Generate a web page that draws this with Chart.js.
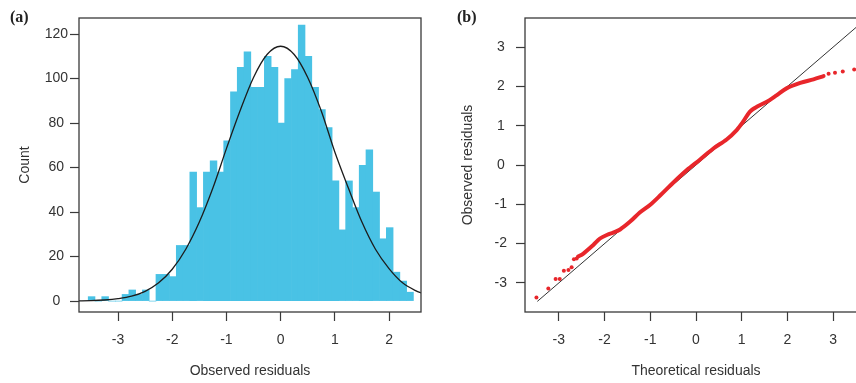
<!DOCTYPE html>
<html>
<head>
<meta charset="utf-8">
<script src="https://cdn.jsdelivr.net/npm/chart.js@4.4.0/dist/chart.umd.min.js"></script>
<style>
  html, body { margin: 0; padding: 0; background: #fff; overflow: hidden; }
  body { width: 856px; height: 383px; position: relative; }
  #histWrap { position: absolute; left: 0; top: 0; width: 430px; height: 383px; }
  #qqWrap { position: absolute; left: 430px; top: 0; width: 450px; height: 383px; }
  .panel { position: absolute; top: 8px; font: bold 16px "Liberation Serif", "Times New Roman", serif; color: #222; }
</style>
</head>
<body>
<div id="histWrap"><canvas id="hist" width="430" height="383"></canvas></div>
<div id="qqWrap"><canvas id="qq" width="450" height="383"></canvas></div>
<div class="panel" style="left:10px">(a)</div>
<div class="panel" style="left:457px">(b)</div>
<script>
// (a) histogram of observed residuals, bins of 0.125
const binStart = -3.55;
const binWidth = 0.125;
const histCounts = [
  2, 0, 2, 0, 0, 3, 5, 3, 5, 0,
  12, 12, 11, 25, 25, 58, 42, 58, 63, 58,
  72, 94, 105, 112, 96, 96, 110, 105, 80, 100,
  104, 124, 110, 96, 86, 78, 54, 32, 54, 42,
  61, 68, 49, 28, 33, 13, 9, 4
];

// fitted normal curve
const curveX = [-3.75, -3.5, -3.25, -3, -2.75, -2.5, -2.25, -2, -1.75, -1.5, -1.25, -1, -0.75, -0.5, -0.25,
  0, 0.25, 0.5, 0.75, 1, 1.25, 1.5, 1.75, 2, 2.25, 2.5, 2.6];
const curveY = [0.1, 0.2, 0.5, 1.1, 2.2, 4.4, 8.2, 14.3, 23.3, 35.5, 50.8, 68.5, 85.4, 100.5, 110.8,
  114.5, 110.8, 100.5, 85.4, 67.0, 50.8, 35.5, 23.3, 14.6, 8.2, 4.6, 3.6];

const histXTicks = [-3, -2, -1, 0, 1, 2];
const histYTicks = [0, 20, 40, 60, 80, 100, 120];

// (b) QQ plot: dense band of points and the sparse tails
const bandTheo = [-2.58, -2.47, -2.25, -2.10, -1.95, -1.81, -1.66, -1.44, -1.23, -1.00, -0.78, -0.50, -0.20,
  0.09, 0.38, 0.67, 0.89, 1.03, 1.18, 1.33, 1.55, 1.77, 1.98, 2.28, 2.57, 2.79];
const bandObs = [-2.33, -2.26, -2.04, -1.87, -1.78, -1.72, -1.64, -1.44, -1.21, -1.01, -0.77, -0.45, -0.13,
  0.14, 0.42, 0.65, 0.89, 1.10, 1.36, 1.48, 1.61, 1.78, 1.95, 2.09, 2.18, 2.26];
const tailTheo = [-3.49, -3.23, -3.07, -2.98, -2.89, -2.79, -2.72, -2.67, -2.61, 2.90, 3.04, 3.21, 3.46];
const tailObs = [-3.37, -3.14, -2.90, -2.90, -2.69, -2.67, -2.60, -2.40, -2.38, 2.32, 2.35, 2.38, 2.43];
const refLineX = [-3.47, 3.9];
const refLineY = [-3.47, 3.9];

const qqTicks = [-3, -2, -1, 0, 1, 2, 3];

const textColor = '#333';
const axisColor = '#3a3a3a';
const barColor = '#49c2e5';
const redColor = '#e8262b';
const tickFont = { family: '"Liberation Sans", Arial, sans-serif', size: 14 };
const titleFont = { family: '"Liberation Sans", Arial, sans-serif', size: 14 };

const frame = {
    id: 'frame',
    afterDatasetsDraw(chart) {
        const { ctx, chartArea: a } = chart;
        ctx.save();
        ctx.strokeStyle = axisColor;
        ctx.lineWidth = 1.3;
        ctx.strokeRect(a.left, a.top, a.right - a.left, a.bottom - a.top);
        ctx.restore();
    }
};

function axis(min, max, tickList, titleText, titlePad, extra) {
    return Object.assign({
        type: 'linear',
        min: min,
        max: max,
        offset: false,
        afterBuildTicks: s => { s.ticks = tickList.map(v => ({ value: v })); },
        grid: { display: true, drawOnChartArea: false, drawTicks: true, tickLength: 9,
                tickColor: axisColor, tickWidth: 1.2, offset: false },
        border: { display: false },
        title: { display: true, text: titleText, color: textColor, font: titleFont, padding: titlePad }
    }, extra);
}

new Chart(document.getElementById('hist'), {
    type: 'bar',
    data: {
        datasets: [
            {
                type: 'line',
                data: curveX.map((x, i) => ({ x: x, y: curveY[i] })),
                borderColor: '#1c1c1c',
                borderWidth: 1.3,
                pointRadius: 0,
                cubicInterpolationMode: 'monotone',
                fill: false,
                order: 1
            },
            {
                type: 'bar',
                data: histCounts.map((c, i) => ({ x: binStart + (i + 0.5) * binWidth, y: c })),
                backgroundColor: barColor,
                borderWidth: 0,
                barPercentage: 1,
                categoryPercentage: 1,
                grouped: false,
                order: 2
            }
        ]
    },
    options: {
        responsive: false,
        animation: false,
        layout: { padding: { top: 18, right: 9, left: 0, bottom: 0 } },
        plugins: { legend: { display: false }, tooltip: { enabled: false } },
        scales: {
            x: axis(-3.72, 2.59, histXTicks, 'Observed residuals', { top: 0, bottom: 3 }, {
                afterFit: s => { s.height = 71; },
                ticks: { color: textColor, font: tickFont, padding: 11, maxRotation: 0, autoSkip: false }
            }),
            y: axis(-4.9, 127.2, histYTicks, 'Count', { top: 16.5, bottom: 0 }, {
                afterFit: s => { s.width = 79; },
                ticks: { color: textColor, font: tickFont, padding: 2, crossAlign: 'center', autoSkip: false }
            })
        }
    },
    plugins: [frame]
});

new Chart(document.getElementById('qq'), {
    type: 'scatter',
    data: {
        datasets: [
            {
                type: 'scatter',
                data: tailTheo.map((x, i) => ({ x: x, y: tailObs[i] })),
                backgroundColor: redColor,
                borderWidth: 0,
                pointRadius: 2,
                order: 1
            },
            {
                type: 'line',
                data: bandTheo.map((x, i) => ({ x: x, y: bandObs[i] })),
                borderColor: redColor,
                borderWidth: 4,
                borderCapStyle: 'round',
                borderJoinStyle: 'round',
                pointRadius: 0,
                tension: 0.3,
                fill: false,
                order: 2
            },
            {
                type: 'line',
                data: refLineX.map((x, i) => ({ x: x, y: refLineY[i] })),
                borderColor: '#333',
                borderWidth: 1,
                pointRadius: 0,
                fill: false,
                order: 3
            }
        ]
    },
    options: {
        responsive: false,
        animation: false,
        layout: { padding: { top: 18, right: 13, left: 0, bottom: 0 } },
        plugins: { legend: { display: false }, tooltip: { enabled: false } },
        scales: {
            x: axis(-3.74, 3.74, qqTicks, 'Theoretical residuals', { top: 0, bottom: 3 }, {
                afterFit: s => { s.height = 71; },
                ticks: { color: textColor, font: tickFont, padding: 11, maxRotation: 0, autoSkip: false }
            }),
            y: axis(-3.74, 3.74, qqTicks, 'Observed residuals', { top: 29.5, bottom: 0 }, {
                afterFit: s => { s.width = 95; },
                ticks: { color: textColor, font: tickFont, padding: 9, crossAlign: 'center', autoSkip: false }
            })
        }
    },
    plugins: [frame]
});
</script>
</body>
</html>
